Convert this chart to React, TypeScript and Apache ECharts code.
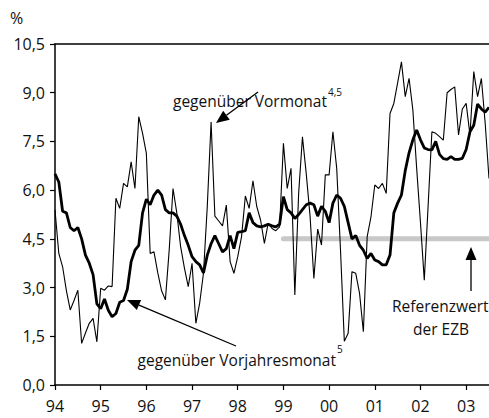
import React, { useEffect, useRef } from "react";
import * as echarts from "echarts";

// Monthly data, Jan 1994 .. Jul 2003
const startYear = 1994;
const yearLabels = ["94", "95", "96", "97", "98", "99", "00", "01", "02", "03"];

// gegenüber Vorjahresmonat (thick)
const vorjahr = [
  6.5, 6.25, 5.35, 5.3, 4.85, 4.75, 4.85, 4.5, 4.0, 3.75, 3.4, 2.5,
  2.35, 2.65, 2.3, 2.1, 2.2, 2.55, 2.6, 2.95, 3.8, 4.15, 4.3, 5.3,
  5.72, 5.55, 5.85, 6.0, 5.85, 5.4, 5.3, 5.3, 5.2, 4.95, 4.6, 4.3,
  3.95, 3.8, 3.7, 3.45, 4.0, 4.35, 4.6, 4.35, 4.1, 4.2, 4.6, 4.2,
  4.7, 4.72, 4.75, 5.3, 5.0, 4.9, 4.87, 4.9, 4.95, 4.9, 4.87, 4.95,
  5.8, 5.4, 5.3, 5.13, 5.25, 5.4, 5.55, 5.6, 5.55, 5.2, 5.5, 5.35,
  5.0, 5.6, 5.85, 5.75, 5.5, 5.0, 4.5, 4.6, 4.3, 4.15, 3.9, 4.05,
  3.85, 3.8, 3.7, 3.7, 4.0, 5.3, 5.6, 5.85, 6.6, 7.15, 7.55, 7.85,
  7.55, 7.3, 7.25, 7.24, 7.5, 7.1, 6.97, 6.95, 7.03, 6.95, 6.95, 6.98,
  7.25, 7.8, 8.0, 8.65, 8.5, 8.4, 8.55,
];

// gegenüber Vormonat (thin)
const vormonat = [
  5.39, 4.05, 3.64, 2.9, 2.31, 2.6, 2.92, 1.28, 1.6, 1.9, 2.05, 1.33,
  2.98, 2.92, 3.05, 3.03, 5.75, 5.44, 6.21, 6.1, 6.87, 6.05, 8.26, 7.75,
  7.13, 4.05, 4.1, 3.45, 2.9, 2.62, 4.16, 6.05, 5.29, 4.26, 3.6, 3.03,
  3.75, 1.9, 2.52, 3.44, 5.5, 8.1, 5.2, 5.05, 4.9, 5.54, 3.8, 3.44,
  3.95, 4.57, 5.82, 5.44, 6.29, 5.49, 5.08, 4.36, 4.98, 4.82, 4.75, 4.87,
  7.44, 6.05, 6.67, 2.77, 5.9, 7.64, 6.5, 5.2, 3.28, 4.8, 4.31, 6.47,
  6.47, 7.8, 6.67, 4.14, 1.35, 1.59, 3.49, 3.44, 2.82, 1.64, 4.57, 5.18,
  6.16, 6.05, 6.21, 5.9, 8.36, 8.67, 9.3, 9.95, 8.88, 9.44, 8.47, 6.67,
  5.0, 3.23, 5.5, 7.8, 7.75, 7.65, 7.54, 9.0, 9.1, 9.18, 7.7, 8.5,
  8.67, 7.7, 9.65, 8.88, 9.44, 8.06, 6.36,
];

// Referenzwert der EZB
const refValue = 4.5;
const refStartIndex = 60; // Jan 1999

const months = vorjahr.map(
  (_, i) => `${startYear + Math.floor(i / 12)}-${String((i % 12) + 1).padStart(2, "0")}`
);
const refSeries = months.map((_, i) => (i >= refStartIndex ? refValue : null));

const FONT = "'Open Sans', 'Noto Sans', sans-serif";

function arrow(x1: number, y1: number, x2: number, y2: number, len = 13, hw = 5.5) {
  const dx = x2 - x1;
  const dy = y2 - y1;
  const d = Math.hypot(dx, dy);
  const ux = dx / d;
  const uy = dy / d;
  const bx = x2 - ux * len;
  const by = y2 - uy * len;
  const px = -uy * hw;
  const py = ux * hw;
  return [
    {
      type: "line",
      shape: { x1, y1, x2: bx, y2: by },
      style: { stroke: "#000", lineWidth: 1.3 },
      silent: true,
    },
    {
      type: "polygon",
      shape: { points: [[x2, y2], [bx + px, by + py], [bx - px, by - py]] },
      style: { fill: "#000" },
      silent: true,
    },
  ];
}

function txt(text: string, x: number, y: number, size = 15.5, align = "left") {
  return {
    type: "text",
    x,
    y,
    silent: true,
    style: {
      text,
      fontSize: size,
      fontFamily: FONT,
      fill: "#111",
      align,
      verticalAlign: "middle",
    },
  };
}

export default function App() {
  const ref = useRef<HTMLDivElement>(null);
  useEffect(() => {
    if (!ref.current) return;
    const chart = echarts.init(ref.current, undefined, { renderer: "svg" });
    const isYear = (i: number) => i % 12 === 0;
    chart.setOption({
      animation: false,
      grid: { left: 55, right: 0, top: 44, bottom: 33 },
      xAxis: [
        {
          type: "category",
          data: months,
          boundaryGap: false,
          axisLine: { lineStyle: { color: "#000", width: 1.5 } },
          axisTick: { interval: (i: number) => isYear(i), length: 5, lineStyle: { color: "#000", width: 1.2 } },
          axisLabel: {
            interval: (i: number) => isYear(i),
            formatter: (_v: string, i: number) => yearLabels[i / 12] ?? "",
            color: "#111",
            fontSize: 16,
            fontFamily: FONT,
            margin: 13,
          },
          splitLine: { show: false },
        },
        {
          type: "category",
          data: months,
          boundaryGap: false,
          position: "top",
          axisLine: { lineStyle: { color: "#000", width: 1.5 } },
          axisTick: { show: false },
          axisLabel: { show: false },
          splitLine: { show: false },
        },
      ],
      yAxis: {
        type: "value",
        min: 0,
        max: 10.5,
        interval: 1.5,
        axisLine: { show: true, lineStyle: { color: "#000", width: 1.5 } },
        axisTick: { show: true, length: 5, lineStyle: { color: "#000", width: 1.2 } },
        axisLabel: {
          formatter: (v: number) => v.toFixed(1).replace(".", ","),
          color: "#111",
          fontSize: 16,
          fontFamily: FONT,
          margin: 10,
        },
        splitLine: { show: false },
      },
      series: [
        {
          name: "Referenzwert der EZB",
          type: "line",
          data: refSeries,
          showSymbol: false,
          symbol: "none",
          lineStyle: { color: "#c8c8c8", width: 5, cap: "round" },
          z: 1,
        },
        {
          name: "gegenüber Vormonat",
          type: "line",
          data: vormonat,
          symbol: "none",
          lineStyle: { color: "#000", width: 1.1 },
          z: 2,
        },
        {
          name: "gegenüber Vorjahresmonat",
          type: "line",
          data: vorjahr,
          symbol: "none",
          lineStyle: { color: "#000", width: 2.8 },
          z: 3,
        },
      ],
      graphic: [
        txt("%", 10, 18, 16),
        txt("gegenüber Vormonat", 327, 101, 15.5, "right"),
        txt("4,5", 328, 92, 10),
        ...arrow(258, 92, 216, 123),
        txt("gegenüber Vorjahresmonat", 336, 360, 15.5, "right"),
        txt("5", 337, 349, 10),
        ...arrow(236, 346, 127, 300),
        txt("Referenzwert", 392, 306),
        txt("der EZB", 441, 329, 15.5, "center"),
        ...arrow(471, 291, 471, 247),
      ],
    });
    return () => chart.dispose();
  }, []);
  return (
    <div
      ref={ref}
      style={{ position: "fixed", left: 0, top: 0, width: 489, height: 418, background: "#fff" }}
    />
  );
}
